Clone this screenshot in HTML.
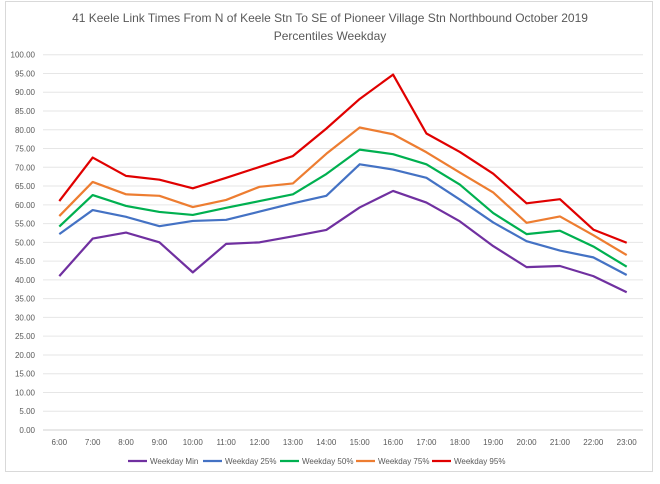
<!DOCTYPE html>
<html><head><meta charset="utf-8"><style>
body{margin:0;background:#fff;font-family:"Liberation Sans",sans-serif}
</style></head><body>
<svg width="660" height="479" id="c">
<rect x="5.5" y="1.5" width="647" height="470" fill="#fff" stroke="#d9d9d9"/>
<text x="330" y="22" text-anchor="middle" font-size="12" fill="#595959">41 Keele Link Times From N of Keele Stn To SE of Pioneer Village Stn Northbound October 2019</text>
<text x="330" y="40" text-anchor="middle" font-size="12" fill="#595959">Percentiles Weekday</text>
<g id="grid"></g><g id="lines"></g><g id="legend"></g>
</svg>
<script>
const categories=["6:00","7:00","8:00","9:00","10:00","11:00","12:00","13:00","14:00","15:00","16:00","17:00","18:00","19:00","20:00","21:00","22:00","23:00"];
const seriesNames=["Weekday Min","Weekday 25%","Weekday 50%","Weekday 75%","Weekday 95%"];
const seriesColors=["#7030a0","#4472c4","#00b050","#ed7d31","#e00000"];
const minVals=[41.0,51.0,52.6,50.0,42.0,49.6,50.0,51.6,53.3,59.3,63.7,60.6,55.6,49.0,43.4,43.7,41.0,36.7];
const p25Vals=[52.2,58.6,56.8,54.3,55.7,56.0,58.2,60.4,62.4,70.8,69.4,67.2,61.4,55.3,50.3,47.8,46.0,41.3];
const p50Vals=[54.2,62.6,59.7,58.1,57.3,59.2,61.0,62.8,68.2,74.7,73.5,70.8,65.4,57.8,52.2,53.1,48.9,43.5];
const p75Vals=[57.0,66.1,62.8,62.4,59.4,61.3,64.8,65.7,73.6,80.6,78.8,74.0,68.6,63.3,55.2,56.9,51.9,46.6];
const p95Vals=[61.0,72.6,67.7,66.7,64.4,67.2,70.1,73.0,80.3,88.2,94.7,79.0,74.1,68.3,60.4,61.5,53.4,49.9];
const yTicks=[0,5,10,15,20,25,30,35,40,45,50,55,60,65,70,75,80,85,90,95,100];
const allSeries=[minVals,p25Vals,p50Vals,p75Vals,p95Vals];
const NS="http://www.w3.org/2000/svg";
const x0=59.3,x1=626.7,yTop=54.7,yBot=430;
const xs=i=>x0+i*(x1-x0)/(categories.length-1);
const ys=v=>yBot-(v/100)*(yBot-yTop);
function mk(tag,a,p){const e=document.createElementNS(NS,tag);for(const k in a)e.setAttribute(k,a[k]);p.appendChild(e);return e;}
const g=document.getElementById('grid');
yTicks.forEach(t=>{
 const l=mk('line',{x1:43,x2:643,y1:ys(t),y2:ys(t),stroke:t===0?'#d0d0d0':'#e6e6e6','stroke-width':1},g);
 
 
 const tx=mk('text',{x:35,y:ys(t)+3,'text-anchor':'end','font-size':8,fill:'#595959'},g);
 tx.textContent=t.toFixed(2);
 
 
});
categories.forEach((c,i)=>{
 const tx=mk('text',{x:xs(i),y:445,'text-anchor':'middle','font-size':8,fill:'#595959'},g);
 tx.textContent=c;
 
 
});
const L=document.getElementById('lines');
allSeries.forEach((s,k)=>{
 const p=mk('polyline',{points:s.map((v,i)=>xs(i)+','+ys(v)).join(' '),fill:'none',stroke:seriesColors[k],'stroke-width':2.2,'stroke-linejoin':'round'},L);
 
 
});
const lg=document.getElementById('legend');
const lx=[128,203,280,356,432];
seriesNames.forEach((n,k)=>{
 const ln=mk('line',{x1:lx[k],x2:lx[k]+19,y1:461,y2:461,stroke:seriesColors[k],'stroke-width':2.2},lg);
 
 
 const tx=mk('text',{x:lx[k]+22,y:464,'font-size':8,fill:'#595959'},lg);
 tx.textContent=n;
 
 
});
</script>
</body></html>
